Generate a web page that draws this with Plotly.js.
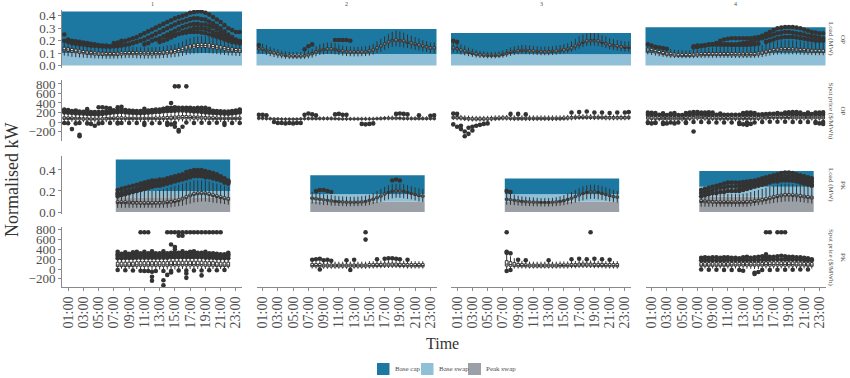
<!DOCTYPE html>
<html><head><meta charset="utf-8">
<script src="https://cdn.plot.ly/plotly-3.0.1.min.js"></script>
<style>html,body{margin:0;padding:0;background:#fff}#chart{width:850px;height:378px}</style>
</head><body><div id="chart"></div>
<script>
const _ = null;
// ---------- categories ----------
const OP_H = [0.5,1,1.5,2,2.5,3,3.5,4,4.5,5,5.5,6,6.5,7,7.5,8,8.5,9,9.5,10,10.5,11,11.5,12,12.5,13,13.5,14,14.5,15,15.5,16,16.5,17,17.5,18,18.5,19,19.5,20,20.5,21,21.5,22,22.5,23,23.5];
const PK_H = [7.5,8,8.5,9,9.5,10,10.5,11,11.5,12,12.5,13,13.5,14,14.5,15,15.5,16,16.5,17,17.5,18,18.5,19,19.5,20,20.5,21,21.5,22];
const TIME_TICKS = [1,3,5,7,9,11,13,15,17,19,21,23];
const TIME_LABELS = ['01:00','03:00','05:00','07:00','09:00','11:00','13:00','15:00','17:00','19:00','21:00','23:00'];
const COL_LABELS = ['1','2','3','4'];
const ROW_VARS = ['Load (MW)','Spot price ($/MWh)','Load (MW)','Spot price ($/MWh)'];
const ROW_PERIODS = ['OP','OP','PK','PK'];
const LEGEND_NAMES = ['Base cap','Base swap','Peak swap'];

// ---------- hedge rectangles (levels) ----------
const OP_BASE_SWAP = [0.10, 0.093, 0.09, 0.098];
const OP_BASE_CAP  = [0.435, 0.294, 0.262, 0.308];
const PK_PEAK_SWAP = [0.14, 0.10, 0.10, 0.145];
const PK_BASE_SWAP = [0.20, 0.17, 0.17, 0.24];
const PK_BASE_CAP  = [0.50, 0.35, 0.32, 0.39];

// ---------- OP load ----------
const L1_MED=[.13,.125,.12,.115,.11,.105,.10,.098,.095,.093,.092,.09, .09,.09,.092,.095,.097,.098,.098,.097,.096,.095,.095,.095, .096,.097,.10,.103,.107,.112,.12,.13,.14,.148,.155,.16, .162,.16,.157,.152,.147,.14,.135,.13,.125,.12,.118];
const L1_Q1=[.118,.113,.108,.103,.098,.094,.089,.087,.084,.082,.081,.079, .079,.079,.081,.084,.086,.087,.087,.086,.085,.084,.084,.084, .085,.086,.089,.092,.095,.1,.107,.116,.126,.134,.14,.145, .147,.145,.142,.138,.133,.127,.122,.117,.112,.108,.106];
const L1_Q3=[.147,.142,.137,.132,.126,.121,.116,.113,.11,.108,.107,.105, .105,.105,.107,.11,.112,.113,.113,.112,.111,.11,.11,.11, .111,.112,.116,.12,.124,.13,.138,.148,.158,.166,.173,.178, .18,.178,.175,.17,.165,.158,.152,.147,.142,.137,.135];
const L1_LO=[.08,.075,.07,.068,.065,.063,.06,.06,.058,.057,.056,.055, .055,.055,.056,.058,.06,.06,.06,.058,.057,.056,.056,.056, .057,.058,.06,.062,.065,.068,.072,.078,.085,.09,.095,.098, .1,.1,.098,.095,.092,.088,.085,.082,.08,.078,.076];
const L1_HI=[.19,.185,.18,.175,.165,.16,.155,.15,.145,.142,.14,.138, .138,.138,.14,.145,.148,.15,.15,.148,.147,.146,.146,.146, .148,.15,.155,.16,.165,.172,.182,.195,.21,.22,.23,.235, .238,.235,.23,.225,.218,.21,.2,.194,.188,.18,.178];
const L1_OUT_A=[_,_,_,_,_,_,_,_,_,_,_,_,_, .18,.185,.19,.2,.21,.22,.23,.245,.26,.275,.29,.305,.32,.335,.35,.365,.38,.39,.40,.41,.425,.43,.435,.435,.425,.41,.39,.37,.35,.325,.3,.285,.27,.27];
const L1_OUT_B=[_,_,_,_,_,_,_,_,_,_,_,_,_,_,_,_, .165,.17,.18,.19,.2,.21,.225,.24,.255,.27,.285,.3,.315,.33,.345,.355,.365,.375,.38,.38,.375,.37,.355,.34,.32,.3,.275,.25,.23,.21,.2];
const L1_OUT_C=[_,_,_,_,_,_,_,_,_,_,_,_,_,_,_,_,_,_,_,_,_, .17,.18,.2,.21,.22,.235,.25,.265,.28,.295,.31,.32,.33,.335,.335,.33,.33,.32,.31,.29,.27,.25,.23,.215,.2,.19];
const L1_OUT_D=[_,_,_,_,_,_,_,_,_,_,_,_,_,_,_,_,_,_,_,_,_,_,_,_,_, .19,.2,.21,.225,.24,.255,.27,.28,.29,.3,.3,.3,.295,.285,.27,.255,.24,.225,.21,.2,.19,.18];
const L1_OUT_E=[.25,.21,.2,.195,.19,.185,.18,.175,.17,.165,.16,.16,.155,.16,.17,.2, _,_,_,_,_,_,_,_,_,_,_,_,_,_,_,_,_,_,_,_,_,_,_,_,_,_,_,_,_,_,_];
const L1_OUT_F=[_,_,_,_,_,_,_,_,_,_,_,_,_,_,_,_,_,_,_,_,_,_,_,_,_,_,_, .23,.24,.25,.255,.26,.265,.27,.27,.27,.265,.26,.25,.24,.23,.22,.21,.2,.19,.185,.18];
const L1_OUT_G=[.2,.19,.18,.175,.17,.167,.163,.16,.157,.155,.153,.152,.152,.153,.155,.16, _,_,_,_,_,_,_,_,_,_,_,_,_,_,_,_,_,_,_,_,_,_,_,_,_,_,_,_,_,_,_];

const L2_MED=[.135,.13,.12,.11,.1,.092,.085,.08,.077,.075,.075,.075, .078,.085,.095,.11,.12,.128,.132,.132,.128,.12,.115,.11, .108,.107,.107,.108,.11,.115,.125,.14,.155,.172,.188,.2, .205,.2,.195,.185,.18,.17,.165,.155,.15,.14,.14];
const L2_Q1=[.127,.122,.112,.102,.092,.084,.077,.072,.069,.067,.067,.067, .07,.077,.087,.102,.112,.12,.124,.124,.12,.112,.107,.102, .1,.099,.099,.1,.102,.107,.117,.132,.147,.164,.18,.192, .197,.192,.187,.177,.172,.162,.157,.147,.142,.132,.132];
const L2_Q3=[.145,.14,.13,.12,.11,.102,.095,.09,.087,.085,.085,.085, .088,.095,.105,.12,.13,.138,.142,.142,.138,.13,.125,.12, .118,.117,.117,.118,.12,.125,.135,.15,.165,.182,.198,.21, .215,.21,.205,.195,.19,.18,.175,.165,.16,.15,.15];
const L2_LO=[.1,.095,.085,.075,.068,.062,.058,.055,.053,.052,.052,.052, .054,.058,.064,.075,.085,.09,.094,.094,.09,.085,.08,.077, .075,.074,.074,.075,.077,.08,.088,.1,.11,.125,.14,.15, .155,.15,.145,.14,.135,.125,.12,.112,.108,.1,.1];
const L2_HI=[.18,.175,.165,.15,.14,.13,.12,.115,.11,.108,.108,.108, .112,.122,.135,.155,.17,.18,.185,.185,.18,.17,.16,.155, .152,.15,.15,.152,.155,.162,.175,.195,.215,.235,.255,.27, .28,.275,.265,.25,.24,.23,.22,.205,.195,.185,.185];
const L2_OUT_X=[0.5,6.5,7,7.5,10.5,11,11.5,12,12.5];
const L2_OUT_Y=[.165,.13,.155,.17,.205,.205,.205,.205,.2];

const L3_MED=[.14,.135,.125,.115,.105,.097,.09,.085,.082,.08,.08,.08, .082,.088,.095,.105,.112,.118,.12,.12,.118,.115,.112,.11, .11,.11,.112,.115,.12,.125,.13,.14,.155,.17,.185,.195, .2,.2,.195,.185,.175,.165,.16,.155,.15,.145,.145];
const L3_Q1=[.132,.127,.117,.107,.097,.089,.082,.077,.074,.072,.072,.072, .074,.08,.087,.097,.104,.11,.112,.112,.11,.107,.104,.102, .102,.102,.104,.107,.112,.117,.122,.132,.147,.162,.177,.187, .192,.192,.187,.177,.167,.157,.152,.147,.142,.137,.137];
const L3_Q3=[.15,.145,.135,.125,.115,.107,.1,.095,.092,.09,.09,.09, .092,.098,.105,.115,.122,.128,.13,.13,.128,.125,.122,.12, .12,.12,.122,.125,.13,.135,.14,.15,.165,.18,.195,.205, .21,.21,.205,.195,.185,.175,.17,.165,.16,.155,.155];
const L3_LO=[.105,.1,.09,.082,.075,.07,.065,.062,.06,.058,.058,.058, .06,.064,.07,.078,.085,.09,.092,.092,.09,.088,.085,.083, .083,.083,.085,.088,.092,.097,.102,.11,.122,.135,.148,.157, .16,.16,.157,.148,.14,.13,.125,.12,.116,.112,.112];
const L3_HI=[.19,.185,.17,.16,.145,.135,.125,.118,.114,.11,.11,.11, .114,.122,.132,.145,.155,.16,.165,.165,.162,.158,.155,.152, .152,.152,.155,.16,.165,.172,.18,.195,.215,.235,.25,.26, .262,.262,.258,.245,.235,.22,.212,.205,.2,.195,.195];
const L3_OUT_X=[0.5,1];
const L3_OUT_Y=[.2,.19];

const L4_MED=[.125,.12,.112,.105,.098,.092,.088,.085,.083,.082,.082,.082, .084,.086,.088,.09,.09,.09,.09,.09,.09,.09,.088,.088, .087,.087,.087,.088,.09,.094,.1,.108,.115,.12,.124,.127, .128,.128,.127,.125,.123,.12,.118,.116,.115,.115,.115];
const L4_Q1=[.115,.11,.102,.095,.088,.082,.078,.075,.073,.072,.072,.072, .074,.076,.078,.08,.08,.08,.08,.08,.08,.08,.078,.078, .077,.077,.077,.078,.08,.084,.09,.098,.105,.11,.114,.117, .118,.118,.117,.115,.113,.11,.108,.106,.105,.105,.105];
const L4_Q3=[.14,.135,.127,.12,.113,.107,.103,.1,.098,.097,.097,.097, .099,.101,.103,.105,.105,.105,.105,.105,.105,.105,.103,.103, .102,.102,.102,.103,.105,.109,.115,.123,.13,.135,.139,.142, .143,.143,.142,.14,.138,.135,.133,.131,.13,.13,.13];
const L4_LO=[.09,.085,.08,.075,.07,.066,.063,.061,.06,.059,.059,.059, .06,.061,.062,.062,.062,.062,.062,.062,.062,.062,.061,.061, .06,.06,.06,.061,.062,.064,.068,.074,.08,.085,.088,.09, .09,.09,.09,.089,.088,.086,.085,.084,.083,.083,.083];
const L4_HI=[.18,.175,.165,.155,.145,.138,.133,.128,.125,.123,.123,.123, .126,.13,.135,.14,.142,.145,.147,.148,.148,.148,.146,.146, .145,.145,.145,.147,.15,.156,.165,.175,.185,.192,.198,.202, .204,.204,.202,.2,.197,.193,.19,.187,.185,.183,.183];
const L4_OUT_A=[_,_,_,_,_,_,_,_,_,_,_,_,_,_,_,_,_,_, .18,.2,.21,.215,.22,.22,.22,.22,.22,.22,.225,.23,.24,.255,.27,.285,.3,.305,.31,.31,.31,.305,.3,.29,.28,.27,.265,.26,.26];
const L4_OUT_B=[_,_,_,_,_,_,_,_,_,_,_,_, .145,.15,.155,.16,.165,.17,.17,.17,.17,.17,.17,.17, .175,.18,.185,.19,.2,.21,.22,.23,.24,.25,.26,.265, .27,.27,.265,.26,.255,.25,.24,.235,.23,.225,.22];
const L4_OUT_C=[_,_,_,_,_,_,_,_,_,_,_,_,_,_,_,_,_,_,_,_,_,_,_,_,_,_,_,_,_,_,_, .19,.2,.21,.22,.225,.23,.23,.23,.225,.22,.215,.21,.205,.2,.2,.2];
const L4_OUT_D=[_,_,_,_,_,_,_,_,_,_,_,_, .155,.16,.16,.165,.17,.17,.17,.17,.168,.168,.165,.165, .165,.165,.165,.168,.17,.175,_,_,_,_,_,_, _,_,_,_,_,_,_,_,_,_,_];
const L4_OUT_X=[0.5,1,1.5,2,2.5,3];
const L4_OUT_Y=[.17,.16,.15,.145,.14,.135];

// ---------- OP spot price ----------
const S1_MED=[80,75,75,70,70,65,65,60,60,60,60,65, 70,75,75,75,70,70,70,70,70,70,70,70, 70,70,75,75,80,85,90,95,95,95,90,90, 85,80,80,75,75,70,70,70,70,70,75];
const S1_Q1=[55,50,50,45,45,40,40,40,40,40,40,45, 50,50,50,50,50,50,50,50,50,50,50,50, 50,50,50,55,55,60,60,65,65,65,60,60, 60,55,55,50,50,50,50,50,50,50,50];
const S1_Q3=[110,105,105,100,95,90,90,85,85,85,90,95, 100,105,110,110,105,100,100,100,100,100,100,100, 105,105,110,115,120,125,130,135,135,130,125,125, 120,115,110,110,105,100,100,100,100,100,105];
const S1_LO=[10,5,5,0,0,-5,-5,-10,-10,-10,-10,-5, 0,0,0,0,0,0,0,0,0,0,0,0, 0,0,0,0,5,5,10,10,10,10,10,10, 5,5,5,0,0,0,0,0,0,0,0];
const S1_HI=[170,165,160,150,145,140,140,135,135,135,140,150, 160,165,170,170,160,155,155,150,150,150,155,155, 160,160,170,175,180,190,200,205,205,200,190,190, 180,175,170,165,160,155,150,150,150,150,160];
const S1_OUT_A=[200,195,190,180,180,175,170,165,165,160,170,180, 190,200,205,210,200,195,190,185,185,190,195,200, 210,210,220,225,230,235,240,240,235,230,220,220, 210,200,195,190,185,180,175,175,180,190,200];
const S1_OUT_B=[260,250,_,240,_,_,270,_,_,310,310,300, 290,_,310,320,_,_,_,_,_,280,_,_, _,_,280,300,300,310,_,_,300,300,290,300, 300,300,280,_,_,_,_,_,_,_,260];
const S1_OUT_C=[240,235,230,225,220,215,215,210,210,210,215,225, 235,245,250,260,250,240,235,230,230,235,240,250, 260,260,270,280,285,290,300,300,290,280,270,270, 260,250,240,235,230,225,220,220,230,240,250];
const S1_OUT_D=[-20,-25,_,-30,-20,_,-30,-40,_,-30,-20,_, -20,_,-15,-20,_,-20,_,-20,_,-20,_,-25, _,-20,_,-15,_,-20,_,_,-10,_,-20,_, -15,_,-20,_,-15,_,-20,_,-20,_,-20];
const S1_OUT_X=[15,15.5,16.5,14.5,1.5,2.5,2.5,4.5,11,14,14.5,15,15.5,15.5,16,21.5,7.5];
const S1_OUT_Y=[750,750,750,400,-150,-300,-270,-80,-60,-60,-50,-100,-200,-170,-100,-60,-30];

const S2_MED=[75,75,70,70,65,65,60,60,60,60,60,65, 70,70,70,70,70,70,70,70,70,65,65,65, 65,65,65,65,65,65,65,70,70,75,75,75, 75,75,70,70,70,70,70,70,70,70,70];
const S2_Q1=[60,60,55,55,50,50,45,45,45,45,45,50, 55,55,55,55,55,55,55,55,55,50,50,50, 50,50,50,50,50,50,50,55,55,60,60,60, 60,60,55,55,55,55,55,55,55,55,55];
const S2_Q3=[95,95,90,85,80,80,75,75,75,75,75,80, 85,90,90,90,90,90,90,90,85,80,80,80, 80,80,80,80,80,80,80,85,90,95,100,100, 100,95,90,90,90,90,90,90,90,90,90];
const S2_LO=[35,35,30,30,25,25,20,20,20,20,20,25, 30,30,30,30,30,30,30,30,30,25,25,25, 25,25,25,25,25,25,25,30,30,35,35,35, 35,35,30,30,30,30,30,30,30,30,30];
const S2_HI=[125,125,120,110,105,105,100,100,100,100,100,105, 110,120,120,120,120,120,120,120,115,110,110,110, 110,110,110,110,110,110,110,115,120,125,135,135, 135,130,120,120,120,120,120,120,120,120,120];
const S2_OUT_X=[0.5,1,1.5,2.5,3,3.5,4,4.5,5,5.5,6,6.5,7,7.5,8,10.5,11,11.5,12,14,14.5,15,15.5,18.5,19,19.5,20,21.5,23,23.5];
const S2_OUT_Y=[150,150,140,0,-20,-20,-30,-20,-30,-20,-20,150,180,160,140,160,170,150,150,-40,-50,-40,-30,170,180,170,160,140,130,140];

const S3_MED=[90,85,80,70,65,60,60,60,60,60,65,70, 75,80,80,75,70,70,70,70,70,70,70,70, 70,70,70,70,70,75,80,85,90,95,95,95, 95,90,90,90,85,85,85,85,85,85,90];
const S3_Q1=[70,65,60,50,45,40,40,40,40,40,45,50, 55,60,60,55,50,50,50,50,50,50,50,50, 50,50,50,50,50,55,60,65,70,75,75,75, 75,70,70,70,65,65,65,65,65,65,70];
const S3_Q3=[120,115,110,100,95,90,90,90,90,90,95,100, 105,110,110,105,100,100,100,100,100,100,100,100, 100,100,100,100,100,105,110,115,120,125,125,125, 125,120,120,120,115,115,115,115,115,115,120];
const S3_LO=[40,35,30,20,15,10,10,10,10,10,15,20, 25,30,30,25,20,20,20,20,20,20,20,20, 20,20,20,20,20,25,30,35,40,45,45,45, 45,40,40,40,35,35,35,35,35,35,40];
const S3_HI=[160,155,150,140,135,130,130,130,130,130,135,140, 145,150,150,145,140,140,140,140,140,140,140,140, 140,140,140,140,140,145,150,155,160,165,165,165, 165,160,160,160,155,155,155,155,155,155,160];
const S3_OUT_X=[0.5,0.5,1,1,1.5,1.5,2,2,2.5,2.5,3,3,3.5,4,4.5,5,8,9,10,16,17,18,19,20,21,22,23,23.5];
const S3_OUT_Y=[180,-50,170,-100,-150,-80,-200,-300,-250,-120,-100,-180,-80,-60,-40,-30,170,170,160,200,210,220,200,200,190,200,200,210];

const S4_MED=[85,80,80,75,70,70,70,70,70,70,75,80, 85,90,90,85,80,80,75,75,75,75,75,75, 75,75,75,75,75,80,85,90,95,95,95,95, 95,95,90,90,90,90,90,90,90,90,90];
const S4_Q1=[60,55,55,50,45,45,45,45,45,45,50,55, 60,65,65,60,55,55,50,50,50,50,50,50, 50,50,50,50,50,55,60,65,70,70,70,70, 70,70,65,65,65,65,65,65,65,65,65];
const S4_Q3=[120,115,115,110,105,105,105,105,105,105,110,115, 120,125,125,120,115,115,110,110,110,110,110,110, 110,110,110,110,110,115,120,125,130,130,130,130, 130,130,125,125,125,125,125,125,125,125,125];
const S4_LO=[25,20,20,15,10,10,10,10,10,10,15,20, 25,30,30,25,20,20,15,15,15,15,15,15, 15,15,15,15,15,20,25,30,35,35,35,35, 35,35,30,30,30,30,30,30,30,30,30];
const S4_HI=[175,170,170,165,160,160,160,160,160,160,165,170, 175,180,180,175,170,170,165,165,165,165,165,165, 165,165,165,165,165,170,175,180,185,185,185,185, 185,185,180,180,180,180,180,180,180,180,180];
const S4_OUT_A=[200,195,190,_,185,_,180,190,_,_,190,200, 210,210,200,200,205,200,_,180,_,_,_,_, _,190,200,200,190,_,_,_,_,_,190,_, 200,205,210,210,200,_,200,_,200,200,205];
const S4_OUT_B=[-20,-30,-20,_,-40,-30,_,-30,_,_,-20,_, _,_,_,_,_,_,_,_,_,_,_,_, -40,-50,-60,-40,_,_,_,_,_,_,_,_, _,_,_,_,_,_,_,_,-20,-30,-40];
const S4_OUT_C=[160,155,150,150,145,145,145,145,145,145,150,155, 160,165,165,160,155,155,150,150,150,150,150,150, 150,150,150,150,150,155,160,165,170,170,170,170, 170,170,165,165,165,165,165,165,165,165,165];
const S4_OUT_D=[-5,_,-10,_,-15,_,-10,_,-10,_,-5,_, 0,_,0,_,-5,_,-10,_,-10,_,-10,_, -10,_,-10,_,-10,_,0,_,5,_,5,_, 5,_,0,_,0,_,0,_,0,_,0];
const S4_OUT_X=[6.5];
const S4_OUT_Y=[-200];

// ---------- PK load ----------
const P1_MED=[.09,.09,.09,.088,.086,.085,.084,.083,.083,.083, .084,.085,.087,.09,.095,.1,.11,.125,.14,.155, .168,.175,.178,.175,.168,.158,.148,.138,.13,.122];
const P1_Q1=[.08,.08,.08,.078,.076,.075,.074,.073,.073,.073, .074,.075,.077,.08,.085,.09,.1,.115,.13,.145, .158,.165,.168,.165,.158,.148,.138,.128,.12,.112];
const P1_Q3=[.105,.105,.105,.103,.101,.1,.099,.098,.098,.098, .099,.1,.102,.105,.11,.115,.125,.14,.155,.17, .183,.19,.193,.19,.183,.173,.163,.153,.145,.137];
const P1_LO=[.04,.04,.04,.04,.04,.04,.04,.04,.04,.04, .04,.04,.04,.04,.045,.05,.055,.06,.07,.08, .09,.095,.1,.1,.095,.09,.085,.08,.075,.07];
const P1_HI=[.2,.2,.2,.2,.2,.2,.2,.2,.2,.2, .2,.21,.22,.23,.24,.25,.26,.27,.28,.29, .3,.3,.3,.3,.29,.28,.27,.26,.25,.24];
const P1_OUT_A=[.21,.22,.23,.24,.25,.26,.27,.28,.29,.3, .3,.31,.31,.32,.33,.34,.35,.36,.38,.39, .4,.4,.4,.39,.38,.37,.36,.34,.32,.3];
const P1_OUT_B=[.18,.18,.19,.19,.2,.2,.21,.22,.23,.24, .25,.26,.27,.28,.29,.3,.31,.32,.33,.34, .35,.36,.36,.355,.35,.34,.33,.31,.29,.28];
const P1_OUT_C=[_,_,_,_,_,_,.25,.26,.27,.27, .28,.28,.29,.3,.31,.32,.33,.34,.35,.36, .37,.38,.38,.375,.37,.36,.35,.33,.31,.29];
const P1_OUT_D=[.15,.16,.17,.18,.19,.2,.21,.22,.23,.24, .25,.25,.26,.27,.28,.29,.3,.31,.32,.33, .34,.34,.34,.33,.33,.32,.31,.3,.28,.27];
const P1_OUT_E=[.17,.17,.18,.2,.21,.22,.23,.24,.25,.26, .27,.27,.28,.29,.3,.31,.32,.33,.34,.35, .36,.37,.37,.36,.36,.35,.34,.32,.3,.29];

const P2_MED=[.13,.125,.12,.115,.11,.105,.10,.098,.095,.093, .092,.092,.093,.095,.1,.11,.12,.135,.15,.17, .185,.195,.2,.2,.195,.185,.175,.165,.155,.15];
const P2_Q1=[.122,.117,.112,.107,.102,.097,.092,.09,.087,.085, .084,.084,.085,.087,.092,.102,.112,.127,.142,.162, .177,.187,.192,.192,.187,.177,.167,.157,.147,.142];
const P2_Q3=[.14,.135,.13,.125,.12,.115,.11,.108,.105,.103, .102,.102,.103,.105,.11,.12,.13,.145,.16,.18, .195,.205,.21,.21,.205,.195,.185,.175,.165,.16];
const P2_LO=[.08,.075,.07,.068,.065,.062,.06,.058,.056,.055, .055,.055,.056,.058,.06,.065,.075,.085,.095,.11, .12,.13,.135,.135,.13,.125,.12,.11,.1,.095];
const P2_HI=[.19,.185,.18,.17,.165,.16,.155,.15,.148,.146, .145,.145,.147,.15,.155,.165,.18,.2,.22,.24, .255,.265,.27,.27,.265,.255,.245,.235,.225,.22];
const P2_OUT_X=[8,8.5,9,9.5,10,18,18.5,19];
const P2_OUT_Y=[.2,.21,.21,.2,.19,.3,.31,.3];

const P3_MED=[.12,.115,.11,.105,.1,.097,.095,.093,.092,.09, .09,.09,.092,.095,.1,.108,.118,.13,.145,.16, .175,.185,.19,.19,.185,.175,.165,.155,.145,.14];
const P3_Q1=[.112,.107,.102,.097,.092,.089,.087,.085,.084,.082, .082,.082,.084,.087,.092,.1,.11,.122,.137,.152, .167,.177,.182,.182,.177,.167,.157,.147,.137,.132];
const P3_Q3=[.13,.125,.12,.115,.11,.107,.105,.103,.102,.1, .1,.1,.102,.105,.11,.118,.128,.14,.155,.17, .185,.195,.2,.2,.195,.185,.175,.165,.155,.15];
const P3_LO=[.07,.068,.065,.062,.06,.058,.056,.055,.054,.053, .053,.053,.054,.056,.06,.065,.072,.08,.09,.1, .11,.12,.125,.125,.12,.115,.108,.1,.094,.09];
const P3_HI=[.18,.175,.165,.155,.148,.145,.14,.138,.135,.132, .132,.132,.135,.14,.148,.16,.175,.19,.21,.23, .245,.255,.26,.26,.255,.245,.235,.222,.21,.2];
const P3_OUT_X=[7.5,8];
const P3_OUT_Y=[.2,.19];

const P4_MED=[.1,.098,.096,.094,.092,.09,.09,.09,.09,.09, .09,.09,.092,.095,.1,.105,.112,.12,.13,.14, .148,.155,.16,.16,.158,.155,.15,.145,.14,.135];
const P4_Q1=[.09,.088,.086,.084,.082,.08,.08,.08,.08,.08, .08,.08,.082,.085,.09,.095,.102,.11,.12,.13, .138,.145,.15,.15,.148,.145,.14,.135,.13,.125];
const P4_Q3=[.115,.113,.111,.109,.107,.105,.105,.105,.105,.105, .105,.105,.107,.11,.115,.12,.127,.135,.145,.155, .163,.17,.175,.175,.173,.17,.165,.16,.155,.15];
const P4_LO=[.05,.05,.05,.05,.05,.05,.05,.05,.05,.05, .05,.05,.05,.055,.06,.065,.07,.075,.08,.085, .09,.095,.1,.1,.1,.1,.095,.09,.085,.08];
const P4_HI=[.17,.17,.17,.17,.17,.17,.17,.17,.17,.17, .17,.175,.18,.19,.2,.21,.22,.23,.24,.25, .26,.27,.27,.27,.265,.26,.255,.25,.24,.23];
const P4_OUT_A=[.21,.22,.23,.24,.25,.26,.27,.28,.28,.28, .28,.285,.29,.295,.3,.31,.32,.33,.34,.35, .36,.37,.375,.375,.37,.36,.35,.34,.33,.32];
const P4_OUT_B=[.18,.19,.2,.21,.22,.23,.23,.24,.24,.24, .25,.25,.26,.27,.28,.29,.3,.31,.32,.33, .33,.34,.34,.34,.335,.33,.32,.31,.3,.29];
const P4_OUT_C=[_,_,_,_,_,_,_,_,_,_, .22,.22,.23,.24,.25,.26,.27,.28,.29,.3, .3,.31,.31,.31,.3,.3,.29,.28,.27,.26];
const P4_OUT_D=[.15,.16,.17,.18,.18,.19,.19,.2,.2,.2, .2,.21,.22,.23,.24,.25,.26,.27,.28,.29, .29,.3,.3,.3,.3,.29,.28,.27,.26,.25];

// ---------- PK spot price ----------
const T1_MED=[80,80,80,80,80,85,85,85,85,85, 85,85,85,85,90,90,90,90,90,90, 90,90,90,85,85,85,80,80,80,80];
const T1_Q1=[50,50,50,50,50,55,55,55,55,55, 55,55,55,55,60,60,60,60,60,60, 60,60,60,55,55,55,50,50,50,50];
const T1_Q3=[140,140,140,140,140,150,150,150,150,150, 150,150,150,150,160,160,160,160,160,160, 160,160,160,150,150,150,140,140,140,140];
const T1_LO=[10,5,5,0,0,0,0,0,-10,-10, -10,-10,-10,-10,-10,-10,0,0,0,0, 0,0,0,0,0,0,0,0,10,10];
const T1_HI=[200,200,200,200,200,205,205,205,205,205, 205,205,205,205,210,210,210,210,210,210, 210,210,210,205,205,205,200,200,200,200];
const T1_OUT_A=[300,310,310,310,310,320,320,320,320,320, 320,320,320,320,330,330,330,330,330,330, 330,330,330,320,320,320,310,300,300,300];
const T1_OUT_B=[350,_,340,_,340,350,_,350,_,360, _,_,360,_,_,400,_,360,_,350, 360,_,_,350,_,_,_,_,_,330];
const T1_OUT_C=[220,220,225,225,225,230,230,230,230,230, 230,230,230,230,240,240,240,240,240,240, 240,240,240,230,230,230,220,220,220,220];
const T1_OUT_D=[-20,_,-25,_,-30,_,-35,_,-40,_, -40,_,-40,_,-40,_,-30,_,-30,_, -30,_,-30,_,-25,_,-25,_,-20,_];
const T1_OUT_E=[265,265,270,270,270,275,275,275,275,275, 275,275,275,275,285,285,285,285,285,285, 285,285,285,275,275,275,265,265,265,265];
const T1_OUT_X=[10.5,11,11.5,14,14.5,15,15.5,16,16.5,17,17.5,18,18.5,19,19.5,20,20.5,21,15.5,16,14.5,15,12,12,12,13.5,13.5,14,14.5,16.5,16.5,18.5,11];
const T1_OUT_Y=[750,750,750,750,750,750,750,750,750,750,750,750,750,750,750,750,750,750,680,680,500,450,-55,-160,-240,-330,-230,-120,-70,-90,-180,-130,-40];

const T2_MED=[70,70,70,65,65,65,65,65,65,65, 65,65,65,65,65,70,70,75,75,80, 80,80,80,75,75,70,70,70,70,70];
const T2_Q1=[45,45,45,40,40,40,40,40,40,40, 40,40,40,40,40,45,45,50,50,55, 55,55,55,50,50,45,45,45,45,45];
const T2_Q3=[110,110,110,100,100,100,100,100,100,100, 100,100,100,100,100,110,110,115,115,120, 120,120,120,115,115,110,110,110,110,110];
const T2_LO=[10,10,10,5,5,5,5,5,5,5, 5,5,5,5,5,10,10,15,15,20, 20,20,20,15,15,10,10,10,10,10];
const T2_HI=[160,160,160,150,150,150,150,150,150,150, 150,150,150,150,150,160,160,170,170,180, 180,180,180,170,170,160,160,160,160,160];
const T2_OUT_X=[7.5,8,8.5,9,9.5,10,12,13,14.5,14.5,16,17,17.5,18,18.5,19,20,8.5,12.5];
const T2_OUT_Y=[190,200,210,180,190,170,180,190,750,600,200,210,220,220,210,200,190,-10,-20];

const T3_MED=[100,90,80,75,70,70,65,65,65,65, 65,65,65,65,70,70,70,75,75,80, 80,80,80,75,75,75,70,70,70,70];
const T3_Q1=[60,55,50,45,45,45,40,40,40,40, 40,40,40,40,45,45,45,50,50,55, 55,55,55,50,50,50,45,45,45,45];
const T3_Q3=[170,150,130,115,110,105,100,100,100,100, 100,100,100,100,105,105,105,110,110,120, 120,120,120,115,115,115,110,110,110,110];
const T3_LO=[0,5,10,10,10,10,10,10,10,10, 10,10,10,10,10,10,10,15,15,20, 20,20,20,15,15,15,10,10,10,10];
const T3_HI=[300,260,220,180,165,160,150,150,150,150, 150,150,150,150,155,155,155,165,165,175, 175,175,175,170,170,170,160,160,160,160];
const T3_OUT_X=[7.5,18.5,7.5,7.5,8,8,7.5,9,10,13,16,17,18,19,20,21];
const T3_OUT_Y=[750,750,350,330,320,-20,-40,190,180,180,200,210,200,210,200,190];

const T4_MED=[80,80,80,80,80,80,80,80,85,85, 85,85,85,85,85,85,85,90,90,90, 90,90,90,90,90,85,85,85,80,80];
const T4_Q1=[55,55,55,55,55,55,55,55,60,60, 60,60,60,60,60,60,60,60,60,60, 60,60,60,60,60,60,60,60,55,55];
const T4_Q3=[130,130,130,130,130,130,130,130,135,135, 135,135,135,135,135,135,135,145,145,145, 145,145,145,145,145,140,140,135,130,130];
const T4_LO=[10,10,10,10,10,10,10,10,10,10, 10,10,5,5,0,0,5,10,10,10, 10,10,10,10,10,10,10,10,10,10];
const T4_HI=[200,200,200,200,200,200,200,200,205,205, 205,205,205,205,205,205,205,215,215,215, 215,215,215,215,215,210,210,205,200,200];
const T4_OUT_A=[230,240,230,240,240,230,240,240,230,230, 220,240,250,230,240,250,260,240,250,250, 260,270,260,250,250,240,240,230,220,200];
const T4_OUT_B=[180,180,180,180,180,180,180,185,185,185, 185,185,185,185,185,185,190,190,195,195, 195,195,195,195,195,190,190,185,180,180];
const T4_OUT_C=[-10,_,-15,_,-15,_,-20,_,-20,_, -20,_,_,_,_,_,-20,_,-20,_, -15,_,-15,_,-15,_,-10,_,-10,_];
const T4_OUT_X=[16,16.5,17.5,18,18.5,16,13,14.5,14.5,15];
const T4_OUT_Y=[750,750,750,750,750,300,-35,-75,-100,-60];

// ---------- panel assembly ----------
const panels = [
 {c:1,r:1,h:OP_H,med:L1_MED,q1:L1_Q1,q3:L1_Q3,lo:L1_LO,hi:L1_HI,bands:[L1_OUT_A,L1_OUT_B,L1_OUT_C,L1_OUT_D,L1_OUT_E,L1_OUT_F,L1_OUT_G]},
 {c:2,r:1,h:OP_H,med:L2_MED,q1:L2_Q1,q3:L2_Q3,lo:L2_LO,hi:L2_HI,ox:L2_OUT_X,oy:L2_OUT_Y},
 {c:3,r:1,h:OP_H,med:L3_MED,q1:L3_Q1,q3:L3_Q3,lo:L3_LO,hi:L3_HI,ox:L3_OUT_X,oy:L3_OUT_Y},
 {c:4,r:1,h:OP_H,med:L4_MED,q1:L4_Q1,q3:L4_Q3,lo:L4_LO,hi:L4_HI,bands:[L4_OUT_A,L4_OUT_B,L4_OUT_C,L4_OUT_D],ox:L4_OUT_X,oy:L4_OUT_Y},
 {c:1,r:2,h:OP_H,med:S1_MED,q1:S1_Q1,q3:S1_Q3,lo:S1_LO,hi:S1_HI,bands:[S1_OUT_A,S1_OUT_B,S1_OUT_C,S1_OUT_D],ox:S1_OUT_X,oy:S1_OUT_Y},
 {c:2,r:2,h:OP_H,med:S2_MED,q1:S2_Q1,q3:S2_Q3,lo:S2_LO,hi:S2_HI,ox:S2_OUT_X,oy:S2_OUT_Y},
 {c:3,r:2,h:OP_H,med:S3_MED,q1:S3_Q1,q3:S3_Q3,lo:S3_LO,hi:S3_HI,ox:S3_OUT_X,oy:S3_OUT_Y},
 {c:4,r:2,h:OP_H,med:S4_MED,q1:S4_Q1,q3:S4_Q3,lo:S4_LO,hi:S4_HI,bands:[S4_OUT_A,S4_OUT_B,S4_OUT_C,S4_OUT_D],ox:S4_OUT_X,oy:S4_OUT_Y},
 {c:1,r:3,h:PK_H,med:P1_MED,q1:P1_Q1,q3:P1_Q3,lo:P1_LO,hi:P1_HI,bands:[P1_OUT_A,P1_OUT_B,P1_OUT_C,P1_OUT_D,P1_OUT_E]},
 {c:2,r:3,h:PK_H,med:P2_MED,q1:P2_Q1,q3:P2_Q3,lo:P2_LO,hi:P2_HI,ox:P2_OUT_X,oy:P2_OUT_Y},
 {c:3,r:3,h:PK_H,med:P3_MED,q1:P3_Q1,q3:P3_Q3,lo:P3_LO,hi:P3_HI,ox:P3_OUT_X,oy:P3_OUT_Y},
 {c:4,r:3,h:PK_H,med:P4_MED,q1:P4_Q1,q3:P4_Q3,lo:P4_LO,hi:P4_HI,bands:[P4_OUT_A,P4_OUT_B,P4_OUT_C,P4_OUT_D]},
 {c:1,r:4,h:PK_H,med:T1_MED,q1:T1_Q1,q3:T1_Q3,lo:T1_LO,hi:T1_HI,bands:[T1_OUT_A,T1_OUT_B,T1_OUT_C,T1_OUT_D,T1_OUT_E],ox:T1_OUT_X,oy:T1_OUT_Y},
 {c:2,r:4,h:PK_H,med:T2_MED,q1:T2_Q1,q3:T2_Q3,lo:T2_LO,hi:T2_HI,ox:T2_OUT_X,oy:T2_OUT_Y},
 {c:3,r:4,h:PK_H,med:T3_MED,q1:T3_Q1,q3:T3_Q3,lo:T3_LO,hi:T3_HI,ox:T3_OUT_X,oy:T3_OUT_Y},
 {c:4,r:4,h:PK_H,med:T4_MED,q1:T4_Q1,q3:T4_Q3,lo:T4_LO,hi:T4_HI,bands:[T4_OUT_A,T4_OUT_B,T4_OUT_C],ox:T4_OUT_X,oy:T4_OUT_Y}
];

// ---------- style / geometry ----------
const W = 850, H = 378;
const FONT = 'Liberation Serif, DejaVu Serif, serif';
const INK = '#333333', AX = '#8a8a8a', TXT = '#4d4d4d';
const C_CAP = '#1d78a1', C_BSW = '#8fc0d8', C_PSW = '#9ba0a6';
const COL_PX = [[62,242],[256.5,436.5],[451,631],[645.5,825.5]];
const ROW_PX = [[10,68],[80,141],[156,214],[227,287]];
const ROW_RANGE = [[-0.02,0.447],[-400,884],[-0.019,0.533],[-367,857]];
const ROW_TICKS = [[0,0.1,0.2,0.3,0.4],[-200,0,200,400,600,800],[0,0.2,0.4],[-200,0,200,400,600,800]];
const ROW_FMT = ['.1f','d','.1f','d'];
const px = x => x / W, py = y => 1 - y / H;
const axn = (k, i) => k + (i === 1 ? '' : i);

const traces = [];
panels.forEach(p => {
  const xa = axn('x', p.c), ya = axn('y', p.r);
  traces.push({type:'box', x:p.h, q1:p.q1, median:p.med, q3:p.q3, lowerfence:p.lo, upperfence:p.hi,
    xaxis:xa, yaxis:ya, boxpoints:false, width:0.36, whiskerwidth:0,
    line:{color:INK, width:1}, fillcolor:'#ffffff', showlegend:false, hoverinfo:'skip'});
  const mk = {size:4.6, color:INK};
  (p.bands || []).forEach(b => traces.push({type:'scatter', mode:'markers', x:p.h, y:b, xaxis:xa, yaxis:ya, marker:mk, showlegend:false, hoverinfo:'skip'}));
  if (p.ox) traces.push({type:'scatter', mode:'markers', x:p.ox, y:p.oy, xaxis:xa, yaxis:ya, marker:mk, showlegend:false, hoverinfo:'skip'});
});

const layout = {
  width:W, height:H, margin:{l:0,r:0,t:0,b:0}, paper_bgcolor:'#fff', plot_bgcolor:'#fff',
  showlegend:false, font:{family:FONT, color:TXT}, shapes:[], annotations:[]
};
for (let c = 1; c <= 4; c++) {
  layout[axn('xaxis', c)] = {domain:[px(COL_PX[c-1][0]), px(COL_PX[c-1][1])], range:[0.2,23.8], anchor:'y4',
    tickmode:'array', tickvals:TIME_TICKS, ticktext:TIME_LABELS, tickangle:-90,
    showline:true, linecolor:AX, linewidth:1, ticks:'outside', ticklen:3, tickcolor:AX,
    tickfont:{family:FONT, size:14, color:TXT}, showgrid:false, zeroline:false, fixedrange:true};
}
for (let r = 1; r <= 4; r++) {
  layout[axn('yaxis', r)] = {domain:[py(ROW_PX[r-1][1]), py(ROW_PX[r-1][0])], range:ROW_RANGE[r-1], anchor:'x',
    tickmode:'array', tickvals:ROW_TICKS[r-1], tickformat:ROW_FMT[r-1],
    showline:true, linecolor:AX, linewidth:1, ticks:'outside', ticklen:3, tickcolor:AX,
    tickfont:{family:FONT, size:13, color:TXT}, showgrid:false, zeroline:false, fixedrange:true};
}
const ann = (x, y, text, size, extra) => Object.assign({xref:'paper', yref:'paper', x:px(x), y:py(y), text,
  showarrow:false, xanchor:'center', yanchor:'middle', font:{family:FONT, size, color:TXT}}, extra || {});
// hedge rectangles
const rect = (xref, yref, x0, x1, y0, y1, col) => ({type:'rect', layer:'below', xref, yref, x0, x1, y0, y1, fillcolor:col, line:{width:0}});
for (let c = 1; c <= 4; c++) {
  const i = c - 1;
  layout.shapes.push(rect(axn('x', c) + ' domain', 'y', 0, 1, 0, OP_BASE_SWAP[i], C_BSW));
  layout.shapes.push(rect(axn('x', c) + ' domain', 'y', 0, 1, OP_BASE_SWAP[i], OP_BASE_CAP[i], C_CAP));
  const xs = PK_H[0] - 0.25, xe = PK_H[PK_H.length - 1] + 0.25;
  layout.shapes.push(rect(axn('x', c), 'y3', xs, xe, 0, PK_PEAK_SWAP[i], C_PSW));
  layout.shapes.push(rect(axn('x', c), 'y3', xs, xe, PK_PEAK_SWAP[i], PK_BASE_SWAP[i], C_BSW));
  layout.shapes.push(rect(axn('x', c), 'y3', xs, xe, PK_BASE_SWAP[i], PK_BASE_CAP[i], C_CAP));
  layout.annotations.push(ann((COL_PX[i][0]+COL_PX[i][1])/2, 4, COL_LABELS[i], 6));
}
for (let r = 0; r < 4; r++) {
  const yc = (ROW_PX[r][0] + ROW_PX[r][1]) / 2;
  layout.annotations.push(ann(831, yc, ROW_VARS[r], 7, {textangle:90}));
  layout.annotations.push(ann(843, yc, ROW_PERIODS[r], 7, {textangle:90}));
}
layout.annotations.push(ann(12, 180, 'Normalised kW', 18, {textangle:-90, font:{family:FONT, size:18, color:'#333'}}));
layout.annotations.push(ann(443, 343, 'Time', 16, {font:{family:FONT, size:16, color:'#333'}}));
// legend keys
const LEG_KEYS = [[377,389.5,392.5],[421,433.5,436.5],[468,481,484]];
const LEG_COLS = [C_CAP, C_BSW, C_PSW];
LEGEND_NAMES.forEach((n, i) => {
  const k = LEG_KEYS[i];
  layout.shapes.push({type:'rect', xref:'paper', yref:'paper', x0:px(k[0]), x1:px(k[1]), y0:py(375), y1:py(363), fillcolor:LEG_COLS[i], line:{width:0}});
  layout.annotations.push(ann(k[2], 369, n, 7, {xanchor:'left'}));
});

Plotly.newPlot('chart', traces, layout, {displayModeBar:false, staticPlot:true});
</script></body></html>
